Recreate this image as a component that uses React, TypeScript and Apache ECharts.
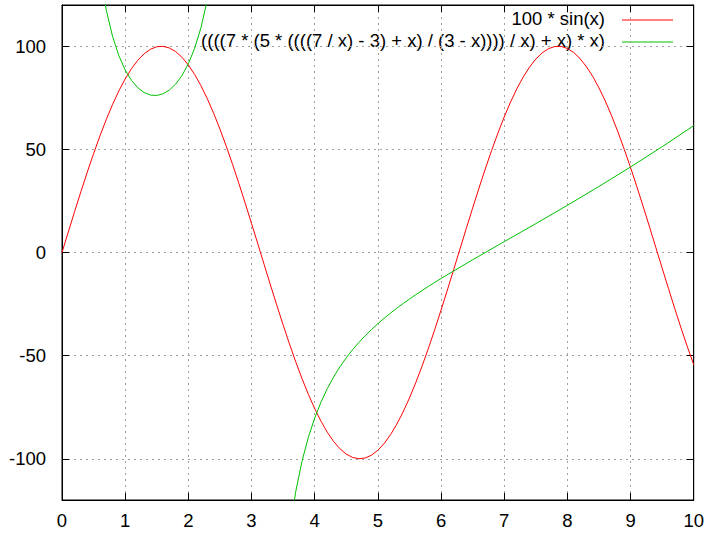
import React, { useEffect, useRef } from "react";
import * as echarts from "echarts";

const sinLabel = "100 * sin(x)";
const fLabel = "((((7 * (5 * ((((7 / x) - 3) + x) / (3 - x)))) / x) + x) * x)";

const xTicks = [0, 1, 2, 3, 4, 5, 6, 7, 8, 9, 10];

const sinX = [
  0, 0.1, 0.2, 0.3, 0.4, 0.5, 0.6, 0.7, 0.8, 0.9,
  1, 1.1, 1.2, 1.3, 1.4, 1.5, 1.6, 1.7, 1.8, 1.9,
  2, 2.1, 2.2, 2.3, 2.4, 2.5, 2.6, 2.7, 2.8, 2.9,
  3, 3.1, 3.2, 3.3, 3.4, 3.5, 3.6, 3.7, 3.8, 3.9,
  4, 4.1, 4.2, 4.3, 4.4, 4.5, 4.6, 4.7, 4.8, 4.9,
  5, 5.1, 5.2, 5.3, 5.4, 5.5, 5.6, 5.7, 5.8, 5.9,
  6, 6.1, 6.2, 6.3, 6.4, 6.5, 6.6, 6.7, 6.8, 6.9,
  7, 7.1, 7.2, 7.3, 7.4, 7.5, 7.6, 7.7, 7.8, 7.9,
  8, 8.1, 8.2, 8.3, 8.4, 8.5, 8.6, 8.7, 8.8, 8.9,
  9, 9.1, 9.2, 9.3, 9.4, 9.5, 9.6, 9.7, 9.8, 9.9,
  10,
];
const sinY = [
  0, 9.98, 19.87, 29.55, 38.94, 47.94, 56.46, 64.42, 71.74, 78.33,
  84.15, 89.12, 93.2, 96.36, 98.54, 99.75, 99.96, 99.17, 97.38, 94.63,
  90.93, 86.32, 80.85, 74.57, 67.55, 59.85, 51.55, 42.74, 33.5, 23.91,
  14.11, 4.16, -5.84, -15.77, -25.55, -35.08, -44.25, -52.99, -61.19, -68.78,
  -75.68, -81.82, -87.16, -91.63, -95.16, -97.75, -99.37, -99.99, -99.62, -98.25,
  -95.89, -92.58, -88.35, -83.24, -77.27, -70.55, -63.13, -55.09, -46.48, -37.41,
  -27.94, -18.23, -8.31, 1.68, 11.65, 21.51, 31.15, 40.47, 49.4, 57.84,
  65.7, 72.9, 79.37, 85.04, 89.85, 93.8, 96.77, 98.82, 99.85, 99.91,
  98.94, 96.98, 94.03, 90.14, 85.46, 79.84, 73.44, 66.3, 58.49, 50.1,
  41.21, 31.91, 22.29, 12.45, 2.48, -7.51, -17.43, -27.18, -36.65, -45.75,
  -54.4,
];

const fLeftX = [0.6, 0.7, 0.8, 0.9, 1, 1.1, 1.2, 1.3, 1.4, 1.5, 1.6, 1.7, 1.8, 1.9, 2, 2.1, 2.2, 2.3, 2.4];
const fLeftY = [135.5, 117.66, 104.84, 95.44, 88.5, 83.43, 79.87, 77.55, 76.34, 76.14, 76.94, 78.75, 81.67, 85.83, 91.5, 99.04, 109.04, 122.46, 140.9];
const fRightX = [3.6, 3.7, 3.8, 3.9, 4, 4.1, 4.2, 4.3, 4.4, 4.5, 4.6, 4.7, 4.8, 4.9, 5, 5.1, 5.2, 5.3, 5.4, 5.5, 5.6, 5.7, 5.8, 5.9, 6, 6.5, 7, 7.5, 8, 8.5, 9, 9.5, 10];
const fRightY = [-135.47, -115.91, -101.15, -89.59, -80.25, -72.51, -65.97, -60.34, -55.41, -51.05, -47.13, -43.57, -40.32, -37.31, -34.5, -31.87, -29.38, -27.01, -24.74, -22.57, -20.47, -18.43, -16.45, -14.51, -12.61, -3.52, 5.25, 13.99, 22.88, 32.01, 41.46, 51.28, 61.5];

const FONT = "Liberation Sans";
const FS = 18.5;

export default function App() {
  const ref = useRef<HTMLDivElement>(null);
  useEffect(() => {
    if (!ref.current) return;
    const chart = echarts.init(ref.current, null, { renderer: "svg" });
    const sinData = sinX.map((x, i) => [x, sinY[i]]);
    const fData: any[] = fLeftX.map((x, i) => [x, fLeftY[i]]);
    fData.push([3, null]);
    fRightX.forEach((x, i) => fData.push([x, fRightY[i]]));

    const tickStyle = { show: true, inside: true, length: 7, lineStyle: { color: "#000", width: 1 } };
    const gridLine = { show: true, lineStyle: { color: "#a0a0a0", width: 1, type: [2, 4] as any } };
    const labelStyle = { color: "#000", fontFamily: FONT, fontSize: FS };

    chart.setOption({
      animation: false,
      backgroundColor: "#fff",
      grid: { left: 62, right: 10, top: 5, bottom: 33, show: true, borderColor: "#000", borderWidth: 1, backgroundColor: "transparent" },
      xAxis: [
        {
          type: "value", min: 0, max: 10, interval: 1, position: "bottom",
          axisLine: { show: true, onZero: false, lineStyle: { color: "#000" } },
          axisTick: tickStyle,
          axisLabel: { ...labelStyle, margin: 11, formatter: (v: number) => (xTicks.includes(v) ? String(v) : "") },
          splitLine: gridLine,
        },
        {
          type: "value", min: 0, max: 10, interval: 1, position: "top",
          axisLine: { show: true, onZero: false, lineStyle: { color: "#000" } },
          axisTick: tickStyle, axisLabel: { show: false }, splitLine: { show: false },
        },
      ],
      yAxis: [
        {
          type: "value", min: -120, max: 120, splitNumber: 5, position: "left",
          axisLine: { show: true, onZero: false, lineStyle: { color: "#000" } },
          axisTick: tickStyle,
          axisLabel: { ...labelStyle, margin: 16, showMinLabel: false, showMaxLabel: false },
          splitLine: gridLine,
        },
        {
          type: "value", min: -120, max: 120, splitNumber: 5, position: "right",
          axisLine: { show: true, onZero: false, lineStyle: { color: "#000" } },
          axisTick: tickStyle, axisLabel: { show: false }, splitLine: { show: false },
        },
      ],
      series: [
        {
          name: sinLabel, type: "line", data: sinData, showSymbol: false, symbol: "none",
          lineStyle: { color: "#ff0000", width: 1 }, clip: true,
        },
        {
          name: fLabel, type: "line", data: fData, showSymbol: false, symbol: "none", connectNulls: false,
          lineStyle: { color: "#00c000", width: 1 }, clip: true,
        },
      ],
      graphic: [
        { type: "text", right: 102, top: 9, style: { text: sinLabel, fill: "#000", font: `${FS}px "${FONT}"`, textAlign: "right" } },
        { type: "line", shape: { x1: 622, y1: 20, x2: 673, y2: 20 }, style: { stroke: "#ff0000", lineWidth: 1 } },
        { type: "text", right: 102, top: 31, style: { text: fLabel, fill: "#000", font: `${FS}px "${FONT}"`, textAlign: "right" } },
        { type: "line", shape: { x1: 622, y1: 42, x2: 673, y2: 42 }, style: { stroke: "#00c000", lineWidth: 1 } },
      ],
    });
    return () => chart.dispose();
  }, []);
  return <div ref={ref} style={{ position: "absolute", left: 0, top: 0, width: 707, height: 533 }} />;
}
